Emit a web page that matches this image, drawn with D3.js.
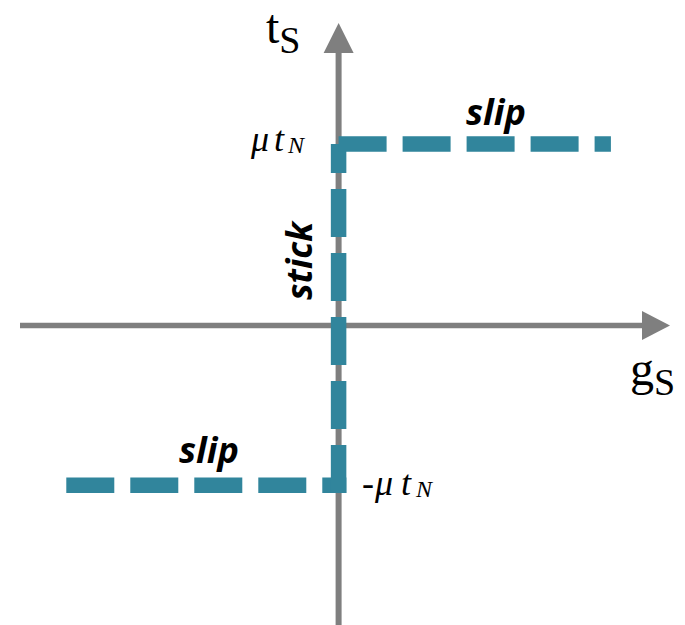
<!DOCTYPE html>
<html>
<head>
<meta charset="utf-8">
<script src="https://cdn.jsdelivr.net/npm/d3@7"></script>
<style>
  html, body { margin: 0; padding: 0; background: #fff; }
  svg { display: block; }
</style>
</head>
<body>
<svg id="chart" width="685" height="625"></svg>
<script>
// Stick-slip friction law: shear traction t_S versus slip g_S
const branchNames = ["slip", "stick", "slip"];
const branchGs = [[-1, 0], [0, 0], [0, 1]];        // slip coordinate at each end of a branch
const branchTs = [[-0.88, -0.88], [-0.88, 1], [1, 1]]; // traction at each end of a branch
const levelValues = [1, -0.88];                      // +mu t_N and -mu t_N
const levelSigns = ["", "-"];
const axisNames = [["t", "S"], ["g", "S"]];

const W = 685, H = 625;
const svg = d3.select("#chart");

const x = d3.scaleLinear().domain([-1.17, 1.217]).range([20, 670]);
const y = d3.scaleLinear().domain([-1.65, 1.667]).range([625, 23]);

const grey = "#7f7f7f";
const teal = "#31859c";
const lineW = 15.5;
const half = lineW / 2;

// ---- axes with arrow heads ----
const axes = svg.append("g");
axes.append("line")
  .attr("x1", x(-1.17)).attr("x2", x(1.217) - 26)
  .attr("y1", y(0)).attr("y2", y(0))
  .attr("stroke", grey).attr("stroke-width", 5.6);
axes.append("line")
  .attr("x1", x(0)).attr("x2", x(0))
  .attr("y1", y(-1.65)).attr("y2", y(1.667) + 28)
  .attr("stroke", grey).attr("stroke-width", 6);
// arrow heads
const xt = x(1.217), yt = y(1.667);
axes.append("path")
  .attr("d", `M${xt},${y(0)} L${xt - 28},${y(0) - 14.5} L${xt - 28},${y(0) + 14.5} Z`)
  .attr("fill", grey);
axes.append("path")
  .attr("d", `M${x(0)},${yt} L${x(0) - 15},${yt + 30} L${x(0) + 15},${yt + 30} Z`)
  .attr("fill", grey);

// ---- friction law branches (dashed) ----
// extension (px) into the corners so the elbows close up
const extend = [[0, half], [half, 0], [0, 0]];
const branches = svg.append("g");
branchGs.forEach((gs, i) => {
  const ts = branchTs[i];
  let x1 = x(gs[0]), x2 = x(gs[1]), y1 = y(ts[0]), y2 = y(ts[1]);
  const len = Math.hypot(x2 - x1, y2 - y1);
  const ux = (x2 - x1) / len, uy = (y2 - y1) / len;
  x1 -= ux * extend[i][0]; y1 -= uy * extend[i][0];
  x2 += ux * extend[i][1]; y2 += uy * extend[i][1];
  branches.append("line")
    .attr("x1", x1).attr("y1", y1).attr("x2", x2).attr("y2", y2)
    .attr("stroke", teal)
    .attr("stroke-width", lineW)
    .attr("stroke-dasharray", "48,16")
    .attr("stroke-linecap", "butt");
});

// ---- axis names ----
const serif = "'Liberation Serif', 'Times New Roman', serif";
const tLabel = svg.append("text").attr("font-family", serif).attr("fill", "#000")
  .attr("x", 266).attr("y", 43);
tLabel.append("tspan").attr("font-size", 48).text(axisNames[0][0]);
tLabel.append("tspan").attr("font-size", 38).attr("dy", 10).text(axisNames[0][1]);

const gLabel = svg.append("text").attr("font-family", serif).attr("fill", "#000")
  .attr("x", 630).attr("y", 385);
gLabel.append("tspan").attr("font-size", 48).text(axisNames[1][0]);
gLabel.append("tspan").attr("font-size", 38).attr("dy", 10).text(axisNames[1][1]);

// ---- ±mu t_N levels ----
const levelPos = [
  { sign: null, mu: 251, t: 274, n: 288, off: 7 },
  { sign: 362, mu: 375, t: 401, n: 416, off: 9.5 }
];
levelValues.forEach((v, i) => {
  const p = levelPos[i];
  const g = svg.append("text").attr("font-family", serif).attr("font-style", "italic")
    .attr("fill", "#000").attr("font-size", 36).attr("y", y(v) + p.off);
  if (levelSigns[i]) {
    g.append("tspan").attr("x", p.sign).attr("font-style", "normal")
      .attr("font-size", 36).text(levelSigns[i]);
  }
  g.append("tspan").attr("x", p.mu).attr("font-size", 36).text("μ");
  g.append("tspan").attr("x", p.t).attr("font-size", 36).text("t");
  g.append("tspan").attr("x", p.n).attr("font-size", 24).attr("dy", 2).text("N");
});

// ---- branch names ----
const sans = "'Open Sans', 'Noto Sans', sans-serif";
function fitText(sel, width) {
  const w = sel.node().getComputedTextLength();
  const fs = +sel.attr("font-size");
  sel.attr("font-size", fs * width / w);
}
const labels = svg.append("g").attr("font-family", sans)
  .attr("font-weight", 700).attr("font-style", "italic").attr("fill", "#000");

const slipTop = labels.append("text").attr("font-size", 30)
  .attr("x", 466).attr("y", 125).text(branchNames[2]);
fitText(slipTop, 60);

const slipBottom = labels.append("text").attr("font-size", 30)
  .attr("x", 179).attr("y", 463).text(branchNames[0]);
fitText(slipBottom, 60);

const stick = labels.append("text").attr("font-size", 30)
  .attr("text-anchor", "middle")
  .attr("transform", "translate(312,261) rotate(-90)")
  .text(branchNames[1]);
fitText(stick, 78);
</script>
</body>
</html>
